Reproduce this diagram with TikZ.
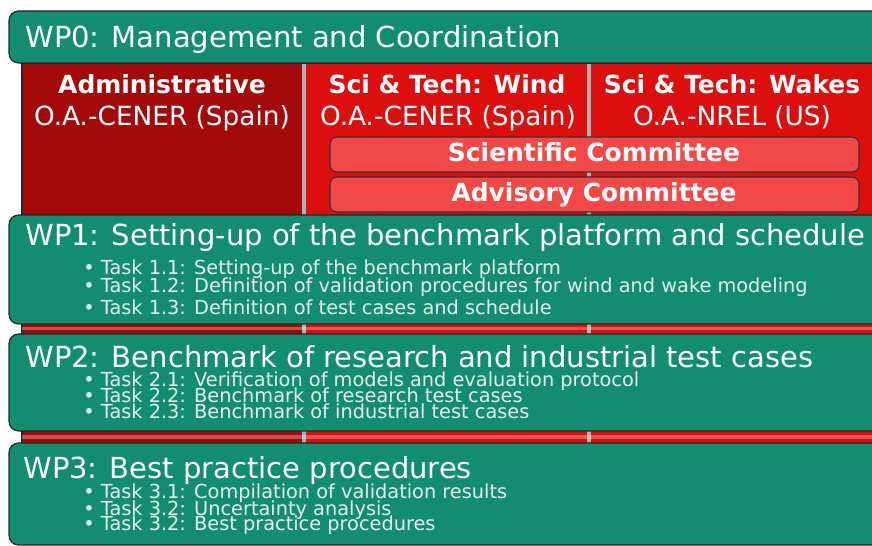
\documentclass[tikz,border=0pt]{standalone}
\usepackage{fontspec}
\setmainfont{DejaVu Sans}
\definecolor{wpgreen}{HTML}{138D70}
\definecolor{admred}{HTML}{A40A0A}
\definecolor{stred}{HTML}{DD0E0E}
\definecolor{comred}{HTML}{F24848}
\definecolor{sepgray}{HTML}{B0B0B0}
\definecolor{tasktext}{HTML}{E4F0EA}
\begin{document}
\begin{tikzpicture}[x=0.02cm,y=-0.02cm,
        wpbox/.style={draw=black!85,fill=wpgreen,rounded corners=5.5pt,line width=.7pt},
        combox/.style={draw=black!80,fill=comred,rounded corners=4pt,line width=.6pt},
        wptitle/.style={anchor=base west,inner sep=0pt,text=white,font=\fontsize{16.5}{18}\selectfont},
        colhead/.style={anchor=base,inner sep=0pt,text=white,font=\bfseries\fontsize{14.2}{16}\selectfont},
        colorg/.style={anchor=base,inner sep=0pt,text=white,font=\fontsize{15}{16}\selectfont},
        task/.style={anchor=base west,inner sep=0pt,text=tasktext,font=\fontsize{11}{12}\selectfont}]
    \useasboundingbox (0,0) rectangle (872,546);
    \clip (0,0) rectangle (872,546);
    \fill[white] (0,0) rectangle (872,546);
    \fill[sepgray] (22,63) rectangle (900,540);
    \fill[admred] (22,63) rectangle (302,540);
    \fill[stred] (306,63) rectangle (587,540);
    \fill[stred] (591,63) rectangle (900,540);
    \draw[black!85,line width=.6pt] (22,540) -- (22,63) -- (900,63);
    \draw[white,opacity=.3,line width=2pt] (22,328.5) -- (900,328.5);
    \draw[white,opacity=.3,line width=2pt] (22,437) -- (900,437);
    \draw[wpbox] (9,11) rectangle (900,63);
    \node[wptitle] (wp0) at (25,48) {WP0: Management and Coordination};
    \node[colhead] (adm) at (162,94) {Administrative};
    \node[colorg] (admorg) at (162,126) {O.A.-CENER (Spain)};
    \node[colhead] (wind) at (447,94) {Sci \& Tech: Wind};
    \node[colorg] (windorg) at (448,126) {O.A.-CENER (Spain)};
    \node[colhead] (wakes) at (732,94) {Sci \& Tech: Wakes};
    \node[colorg] (wakesorg) at (732,126) {O.A.-NREL (US)};
    \draw[combox] (330,137) rectangle (859,172);
    \node[colhead] (scicom) at (594,162) {Scientific Committee};
    \draw[combox] (330,177) rectangle (859,212);
    \node[colhead] (advcom) at (594,202) {Advisory Committee};
    \draw[wpbox] (9,215) rectangle (900,324);
    \node[wptitle] (wp1) at (25,246) {WP1: Setting-up of the benchmark platform and schedule};
    \node[task] (t11) at (83,275) {•\ Task 1.1: Setting-up of the benchmark platform};
    \node[task] (t12) at (83,293) {•\ Task 1.2: Definition of validation procedures for wind and wake modeling};
    \node[task] (t13) at (83,315) {•\ Task 1.3: Definition of test cases and schedule};
    \draw[wpbox] (9,334) rectangle (900,431);
    \node[wptitle] (wp2) at (25,368) {WP2: Benchmark of research and industrial test cases};
    \node[task] (t21) at (83,387) {•\ Task 2.1: Verification of models and evaluation protocol};
    \node[task] (t22) at (83,403) {•\ Task 2.2: Benchmark of research test cases};
    \node[task] (t23) at (83,419) {•\ Task 2.3: Benchmark of industrial test cases};
    \draw[wpbox] (9,443) rectangle (900,545);
    \node[wptitle] (wp3) at (23,479) {WP3: Best practice procedures};
    \node[task] (t31) at (83,499) {•\ Task 3.1: Compilation of validation results};
    \node[task] (t32) at (83,516) {•\ Task 3.2: Uncertainty analysis};
    \node[task] (t33) at (83,531) {•\ Task 3.2: Best practice procedures};
\end{tikzpicture}
\end{document}
